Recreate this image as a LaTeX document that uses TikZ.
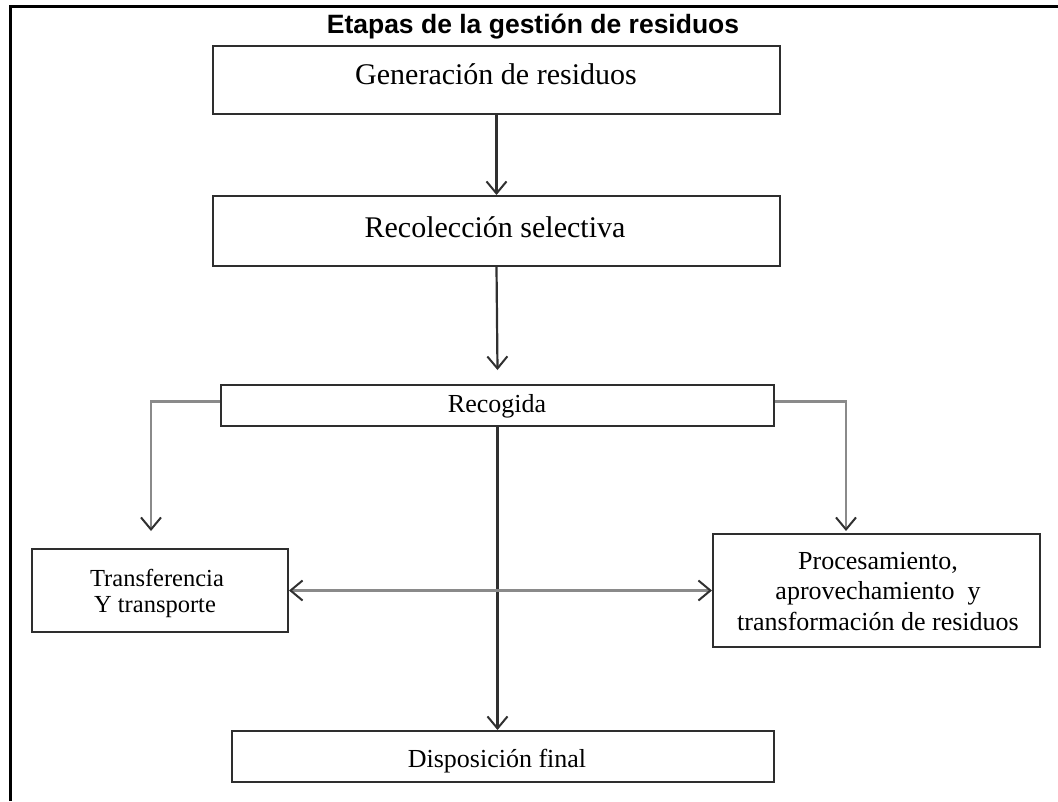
\documentclass[tikz,border=0pt]{standalone}
\usepackage{fontspec}
\setmainfont{Liberation Serif}
\newfontfamily\titlefont{Liberation Sans}
\usetikzlibrary{arrows.meta}
\definecolor{boxline}{HTML}{2E2E2E}
\definecolor{darkline}{HTML}{303030}
\definecolor{grayline}{HTML}{8A8A8A}
\tikzset{
  box/.style={draw=boxline, line width=2pt, minimum width=#1, inner sep=0pt},
  bigtext/.style={font=\fontsize{30}{34}\selectfont, anchor=base, inner sep=0pt},
  smalltext/.style={font=\fontsize{26}{30}\selectfont, anchor=base, inner sep=0pt},
  tinytext/.style={font=\fontsize{24.5}{28}\selectfont, anchor=base, inner sep=0pt},
  tip/.style={-{Straight Barb[length=12pt,width=20pt,line width=2pt,color=darkline]}},
  dtip/.style={{Straight Barb[length=12pt,width=20pt,line width=2pt,color=darkline]}-{Straight Barb[length=12pt,width=20pt,line width=2pt,color=darkline]}},
  mainconn/.style={darkline, line width=2.2pt, tip},
  sideconn/.style={grayline, line width=2.2pt, tip},
}
\begin{document}
\begin{tikzpicture}[x=1pt,y=-1pt]
\useasboundingbox (0,0) rectangle (1058,801);
% frame
\draw[black, line width=3pt] (10,801) -- (10,6) -- (1058,6);
% title
\node[anchor=base, inner sep=0pt, font=\titlefont\bfseries\fontsize{26.5}{30}\selectfont] (title) at (533,33) {Etapas de la gestión de residuos};
% boxes
\node[box=567pt, minimum height=68pt] (b1) at (496.5,80) {};
\node[box=567pt, minimum height=70pt] (b2) at (496.5,231) {};
\node[box=553pt, minimum height=41pt] (b3) at (497.5,405.5) {};
\node[box=256pt, minimum height=83pt] (b4) at (160,590.5) {};
\node[box=327pt, minimum height=113pt] (b5) at (876.5,590.5) {};
\node[box=542pt, minimum height=51pt] (b6) at (503,756.5) {};
% texts
\node[bigtext] (t1) at (496,84) {Generación de residuos};
\node[bigtext] (t2) at (495,237) {Recolección selectiva};
\node[smalltext] (t3) at (497,412) {Recogida};
\node[tinytext] (t4a) at (157,586) {Transferencia};
\node[tinytext] (t4b) at (155,612) {Y transporte};
\node[smalltext] (t5a) at (878,569) {Procesamiento,};
\node[smalltext] (t5b) at (878,599) {aprovechamiento\ \ y};
\node[smalltext] (t5c) at (878,630) {transformación de residuos};
\node[smalltext] (t6) at (497,767) {Disposición final};
% connectors
\draw[mainconn] (b1.south) -- (b2.north);
\draw[mainconn] (b2.south) -- ([yshift=14pt]b3.north);
\draw[mainconn] (b3.south) -- (b3.south |- b6.north);
\draw[sideconn] ([yshift=4pt]b3.west) -| ([xshift=-9pt,yshift=17pt]b4.north);
\draw[sideconn] ([yshift=4pt]b3.east) -| ([xshift=-30.5pt,yshift=2pt]b5.north);
\draw[grayline, line width=2.2pt, dtip] (b4.east) -- (b5.west);
\end{tikzpicture}
\end{document}
